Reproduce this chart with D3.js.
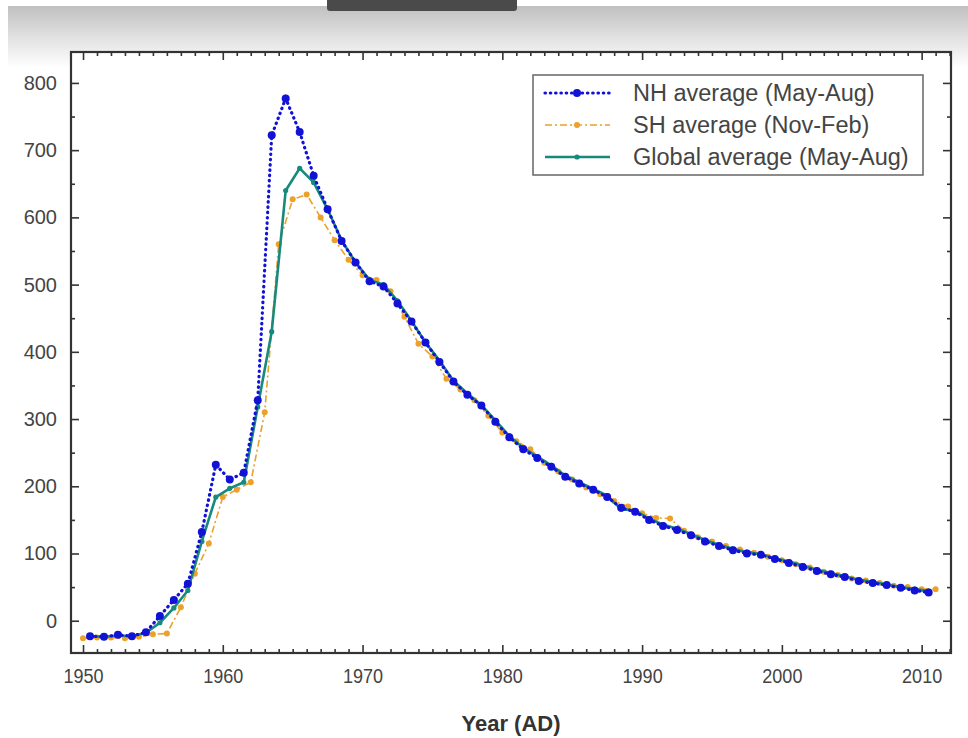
<!DOCTYPE html>
<html>
<head>
<meta charset="utf-8">
<script src="https://cdn.jsdelivr.net/npm/d3@7"></script>
<style>
  body { margin: 0; background: #fff; }
  svg { display: block; font-family: "Liberation Sans", Arial, sans-serif; }
</style>
</head>
<body>
<script>
// years of the record (NH / Global use May-Aug so they sit at mid-year)
const years = [1950, 1951, 1952, 1953, 1954, 1955, 1956, 1957, 1958, 1959,
  1960, 1961, 1962, 1963, 1964, 1965, 1966, 1967, 1968, 1969,
  1970, 1971, 1972, 1973, 1974, 1975, 1976, 1977, 1978, 1979,
  1980, 1981, 1982, 1983, 1984, 1985, 1986, 1987, 1988, 1989,
  1990, 1991, 1992, 1993, 1994, 1995, 1996, 1997, 1998, 1999,
  2000, 2001, 2002, 2003, 2004, 2005, 2006, 2007, 2008, 2009,
  2010, 2011];

// NH average (May-Aug), 1950..2010
const nhValues = [-23, -24, -21, -23, -17, 7, 31, 55, 132, 232,
  210, 220, 328, 722, 777, 727, 662, 612, 565, 533,
  505, 497, 472, 445, 414, 385, 356, 336, 320, 296,
  273, 255, 242, 229, 214, 204, 195, 184, 168, 162,
  150, 141, 135, 127, 118, 111, 105, 100, 98, 92,
  86, 80, 74, 69, 65, 59, 56, 53, 49, 45,
  42];

// SH average (Nov-Feb), 1950..2011
const shValues = [-26, -25, -25, -26, -24, -20, -19, 20, 70, 115,
  184, 195, 206, 310, 560, 627, 634, 600, 566, 537,
  514, 507, 490, 452, 412, 393, 360, 344, 328, 305,
  280, 267, 255, 235, 222, 210, 198, 188, 178, 170,
  160, 153, 152, 134, 124, 118, 111, 106, 101, 95,
  90, 84, 79, 73, 68, 63, 60, 56, 52, 50,
  47, 47];

// Global average (May-Aug), 1950..2010
const globalValues = [-23, -24, -22, -23, -18, -3, 19, 45, 118, 184,
  197, 206, 318, 430, 640, 673, 652, 612, 566, 533,
  507, 500, 476, 446, 414, 387, 357, 338, 321, 298,
  275, 257, 244, 231, 216, 206, 196, 186, 166, 164,
  152, 143, 137, 129, 120, 113, 107, 102, 99, 93,
  88, 82, 76, 71, 66, 61, 58, 54, 50, 47,
  44];

const seriesNames = ["NH average (May-Aug)", "SH average (Nov-Feb)", "Global average (May-Aug)"];
const xTicks = [1950, 1960, 1970, 1980, 1990, 2000, 2010];
const yTicks = [0, 100, 200, 300, 400, 500, 600, 700, 800];
const xLabel = "Year (AD)";

const width = 968, height = 738;
const plotL = 71, plotR = 951, plotT = 52, plotB = 653;

const x = d3.scaleLinear().domain([1949.14, 2012.1]).range([plotL, plotR]);
const y = d3.scaleLinear().domain([-48, 846]).range([plotB, plotT]);

const svg = d3.select("body").append("svg")
  .attr("width", width)
  .attr("height", height);

// grey photo band at the top
const defs = svg.append("defs");
const grad = defs.append("linearGradient")
  .attr("id", "topfade").attr("x1", 0).attr("y1", 0).attr("x2", 0).attr("y2", 1);
grad.append("stop").attr("offset", "0%").attr("stop-color", "#c0c0c0");
grad.append("stop").attr("offset", "55%").attr("stop-color", "#e4e4e4");
grad.append("stop").attr("offset", "100%").attr("stop-color", "#ffffff");

svg.append("rect").attr("x", 0).attr("y", 0).attr("width", width).attr("height", height).attr("fill", "#fff");
svg.append("rect").attr("x", 8).attr("y", 6).attr("width", width - 8).attr("height", 62).attr("fill", "url(#topfade)");
svg.append("path")
  .attr("d", "M327,0 H517 V8 Q517,11 514,11 H330 Q327,11 327,8 Z")
  .attr("fill", "#4a4a4a");

// plot area
svg.append("rect")
  .attr("x", plotL).attr("y", plotT)
  .attr("width", plotR - plotL).attr("height", plotB - plotT)
  .attr("fill", "#fff");

// axes: major + minor ticks on all four sides, pointing inward
const yearTicks = years.concat([2012]).filter(v => v % 10 !== 0);
const yMinor = [50, 150, 250, 350, 450, 550, 650, 750];

function addAxis(axis, tx, ty, labels) {
  const g = svg.append("g").attr("transform", `translate(${tx},${ty})`).call(axis);
  g.select(".domain").remove();
  g.selectAll(".tick line").attr("stroke", "#333").attr("stroke-width", 1.6);
  if (!labels) g.selectAll(".tick text").remove();
  return g;
}

const xAx = addAxis(d3.axisBottom(x).tickValues(xTicks).tickSize(-8).tickPadding(15).tickFormat(d3.format("d")), 0, plotB, true);
addAxis(d3.axisBottom(x).tickValues(yearTicks).tickSize(-4).tickFormat(""), 0, plotB, false);
addAxis(d3.axisTop(x).tickValues(xTicks).tickSize(-8), 0, plotT, false);
addAxis(d3.axisTop(x).tickValues(yearTicks).tickSize(-4), 0, plotT, false);

const yAx = addAxis(d3.axisLeft(y).tickValues(yTicks).tickSize(-8).tickPadding(14), plotL, 0, true);
addAxis(d3.axisLeft(y).tickValues(yMinor).tickSize(-4).tickFormat(""), plotL, 0, false);
addAxis(d3.axisRight(y).tickValues(yTicks).tickSize(-8), plotR, 0, false);
addAxis(d3.axisRight(y).tickValues(yMinor).tickSize(-4), plotR, 0, false);

xAx.selectAll(".tick text")
  .attr("font-size", 21).attr("fill", "#444")
  .attr("font-family", "Liberation Sans, Arial, sans-serif")
  .attr("transform", "scale(0.86,1)");
yAx.selectAll(".tick text")
  .attr("font-size", 20).attr("fill", "#444")
  .attr("font-family", "Liberation Sans, Arial, sans-serif");

svg.append("text")
  .attr("x", 511).attr("y", 731)
  .attr("text-anchor", "middle")
  .attr("font-size", 22).attr("font-weight", "bold").attr("fill", "#333")
  .text(xLabel);

// series
const nhData = nhValues.map((v, i) => ({ t: years[i] + 0.5, v }));
const shData = shValues.map((v, i) => ({ t: years[i], v }));
const glData = globalValues.map((v, i) => ({ t: years[i] + 0.5, v }));

const line = d3.line().x(d => x(d.t)).y(d => y(d.v));

const styles = [
  { data: nhData, color: "#1212d6", width: 3.2, dash: "0.5 4.8", cap: "round", r: 4 },
  { data: shData, color: "#eba12a", width: 1.6, dash: "7 3 2 3", cap: "butt", r: 3 },
  { data: glData, color: "#17897d", width: 2.6, dash: null, cap: "butt", r: 2.6 }
];

const drawOrder = [1, 2, 0];
const plot = svg.append("g");
drawOrder.forEach(k => {
  const s = styles[k];
  plot.append("path")
    .datum(s.data)
    .attr("fill", "none")
    .attr("stroke", s.color)
    .attr("stroke-width", s.width)
    .attr("stroke-dasharray", s.dash)
    .attr("stroke-linecap", s.cap)
    .attr("d", line);
  plot.selectAll(null)
    .data(s.data)
    .enter()
    .append("circle")
    .attr("cx", d => x(d.t))
    .attr("cy", d => y(d.v))
    .attr("r", s.r)
    .attr("fill", s.color);
});

// frame
svg.append("rect")
  .attr("x", plotL).attr("y", plotT)
  .attr("width", plotR - plotL).attr("height", plotB - plotT)
  .attr("fill", "none").attr("stroke", "#333").attr("stroke-width", 2.2);

// legend
const legend = svg.append("g");
legend.append("rect")
  .attr("x", 533).attr("y", 75).attr("width", 390).attr("height", 100)
  .attr("fill", "#fff").attr("stroke", "#666").attr("stroke-width", 1.5);

seriesNames.forEach((name, i) => {
  const s = styles[i];
  const ly = 93 + i * 32;
  legend.append("line")
    .attr("x1", 545).attr("x2", 610).attr("y1", ly).attr("y2", ly)
    .attr("stroke", s.color).attr("stroke-width", s.width)
    .attr("stroke-dasharray", s.dash).attr("stroke-linecap", s.cap);
  legend.append("circle").attr("cx", 577).attr("cy", ly).attr("r", s.r).attr("fill", s.color);
  legend.append("text")
    .attr("x", 633).attr("y", ly)
    .attr("dy", "0.35em")
    .attr("font-size", 23.5).attr("fill", "#444")
    .text(name);
});
</script>
</body>
</html>
